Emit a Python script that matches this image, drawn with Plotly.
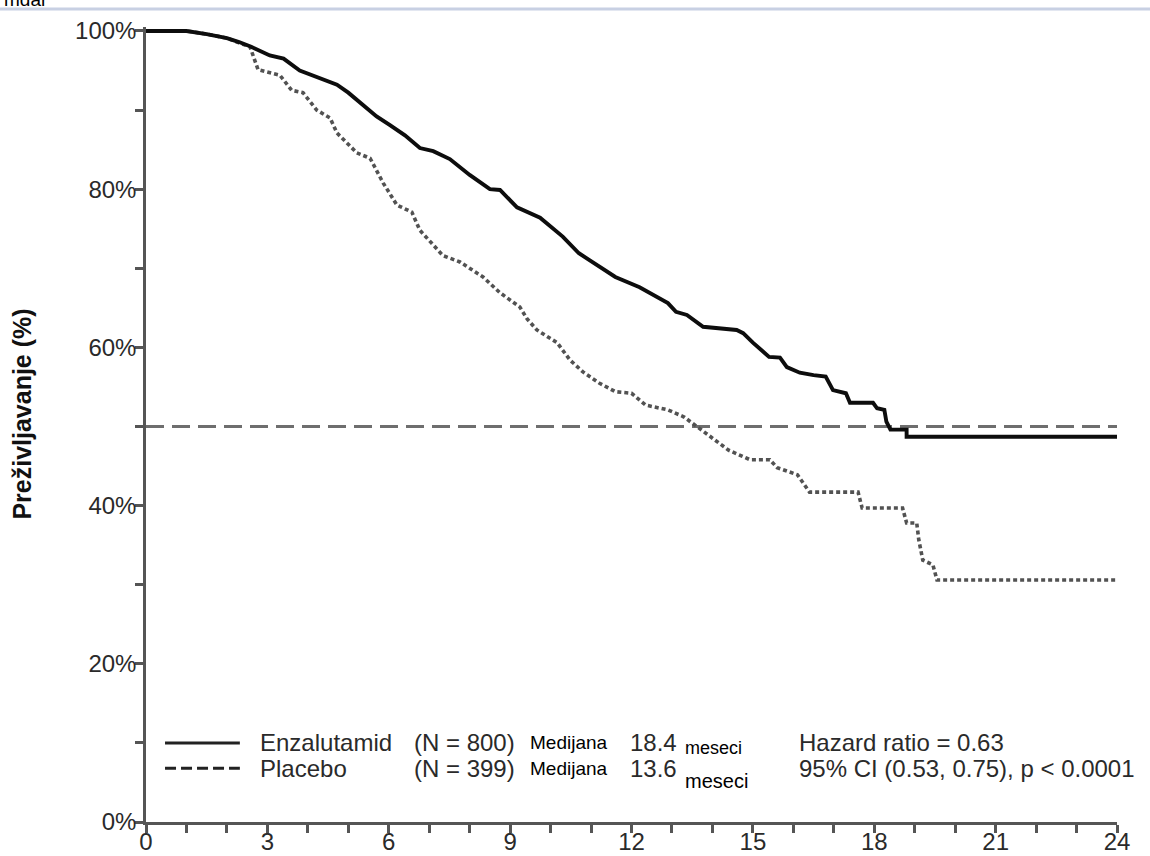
import plotly.graph_objects as go

# Kaplan-Meier survival traces (months, % surviving)
enza_months = [0, 1.0, 1.5, 2.0, 2.3, 2.6, 3.06, 3.4, 3.8, 4.2, 4.72, 5.0, 5.29, 5.7, 6.03,
               6.4, 6.77, 7.1, 7.51, 8.0, 8.5, 8.75, 9.17, 9.74, 10.3, 10.7, 10.97, 11.6,
               12.2, 12.9, 13.1, 13.37, 13.77, 14.6, 14.76, 15.0, 15.4, 15.67, 15.84, 16.16,
               16.5, 16.8, 16.98, 17.3, 17.4, 17.97, 18.07, 18.25, 18.3, 18.4, 18.8, 18.8, 24]
enza_surv = [100, 100, 99.6, 99.1, 98.6, 98.0, 96.9, 96.5, 95.0, 94.2, 93.2, 92.2, 90.9, 89.2, 88.1,
             86.8, 85.2, 84.8, 83.8, 81.8, 80.0, 79.9, 77.7, 76.4, 74.0, 71.9, 71.0, 68.9,
             67.6, 65.6, 64.5, 64.1, 62.6, 62.2, 61.8, 60.6, 58.8, 58.7, 57.5, 56.8,
             56.5, 56.3, 54.6, 54.2, 53.0, 53.0, 52.3, 52.1, 50.6, 49.6, 49.6, 48.7, 48.7]

placebo_months = [0, 1.0, 1.5, 2.0, 2.3, 2.57, 2.77, 3.31, 3.6, 3.88, 4.22, 4.55, 4.72, 5.21, 5.54,
                  5.86, 6.2, 6.57, 6.77, 7.34, 7.76, 8.33, 8.75, 9.24, 9.42, 9.66, 10.16, 10.48,
                  10.8, 11.2, 11.6, 12.0, 12.35, 12.9, 13.3, 13.7, 13.94, 14.4, 14.93, 15.42,
                  15.6, 16.1, 16.4, 17.6, 17.7, 18.7, 18.8, 19.05, 19.1, 19.2, 19.45, 19.55, 24]
placebo_surv = [100, 100, 99.6, 99.1, 98.5, 98.0, 95.1, 94.4, 92.5, 92.2, 90.0, 89.0, 87.1, 84.6, 83.9,
                80.8, 78.0, 77.1, 74.8, 71.6, 70.8, 68.9, 66.9, 65.1, 63.6, 62.2, 60.6, 58.4,
                56.9, 55.5, 54.4, 54.2, 52.7, 52.1, 51.2, 49.7, 48.7, 47.0, 45.8, 45.8,
                44.8, 43.9, 41.7, 41.7, 39.7, 39.7, 37.8, 37.8, 35.7, 33.1, 32.5, 30.6, 30.6]

median_level = 50

x_tick_vals = list(range(0, 25, 3))
y_tick_vals = list(range(0, 101, 20))
y_tick_text = [f"{v}%" for v in y_tick_vals]

legend_rows = [
    {"name": "Enzalutamid", "n": "(N = 800)", "median": "18.4", "stat": "Hazard ratio = 0.63"},
    {"name": "Placebo", "n": "(N = 399)", "median": "13.6", "stat": "95% CI (0.53, 0.75), p < 0.0001"},
]

FONT = "Liberation Sans, Arial, Helvetica, sans-serif"
AXIS_COLOR = "#555555"
TEXT_COLOR = "#2a2a2a"

fig = go.Figure()

fig.add_trace(go.Scatter(
    x=placebo_months, y=placebo_surv, mode="lines",
    line=dict(color="#525252", width=3.6, dash="4px,3px"),
    showlegend=False, hoverinfo="skip"))

fig.add_trace(go.Scatter(
    x=enza_months, y=enza_surv, mode="lines",
    line=dict(color="#0d0d0d", width=3.9),
    showlegend=False, hoverinfo="skip"))

# median reference line
fig.add_shape(type="line", xref="x", yref="y", x0=0, x1=24, y0=median_level, y1=median_level,
              line=dict(color="#6e6e6e", width=3, dash="18px,8px"), layer="below")

# legend block drawn inside the plot
row_y = [10.0, 6.8]
meseci_y = [9.4, 5.2]
meseci_size = [18, 20]
sample_dash = ["solid", "11px,5px"]
for i, row in enumerate(legend_rows):
    y = row_y[i]
    fig.add_shape(type="line", xref="x", yref="y", x0=0.47, x1=2.32, y0=y, y1=y,
                  line=dict(color="#222222", width=3, dash=sample_dash[i]))
    for xpos, txt, size, color in [
        (2.77, row["name"], 24, TEXT_COLOR),
        (6.57, row["n"], 24, TEXT_COLOR),
        (9.44, "Medijana", 19, "#000000"),
        (11.91, row["median"], 24, TEXT_COLOR),
        (16.09, row["stat"], 24, TEXT_COLOR),
    ]:
        fig.add_annotation(x=xpos, y=y, xref="x", yref="y", text=txt, showarrow=False,
                           xanchor="left", yanchor="middle",
                           font=dict(family=FONT, size=size, color=color))
    fig.add_annotation(x=13.27, y=meseci_y[i], xref="x", yref="y", text="meseci", showarrow=False,
                       xanchor="left", yanchor="middle",
                       font=dict(family=FONT, size=meseci_size[i], color="#000000"))

# y-axis title
fig.add_annotation(x=-124 / 971, y=51.5, xref="paper", yref="y", text="<b>Preživljavanje (%)</b>",
                   textangle=-90, showarrow=False, xanchor="center", yanchor="middle",
                   font=dict(family=FONT, size=25, color="#111111"))

# page header rule and cut-off heading text
fig.add_shape(type="line", xref="paper", yref="paper", x0=-146 / 971, x1=1004 / 971,
              y0=(822 - 9) / 795, y1=(822 - 9) / 795,
              line=dict(color="#c8d0e3", width=3))
fig.add_annotation(x=-144 / 971, y=(822 - 12) / 795, xref="paper", yref="paper", text="mdar",
                   showarrow=False, xanchor="left", yanchor="bottom",
                   font=dict(family=FONT, size=19, color="#000000"))

axis_common = dict(
    showgrid=False, zeroline=False, showline=True, linecolor=AXIS_COLOR, linewidth=2.5,
    ticks="outside", ticklen=8, tickwidth=2.5, tickcolor=AXIS_COLOR, automargin=False,
    tickfont=dict(family=FONT, size=24, color=TEXT_COLOR),
)

fig.update_layout(
    width=1150, height=856,
    margin=dict(l=146, r=33, t=27, b=34),
    paper_bgcolor="white", plot_bgcolor="white",
    xaxis=dict(range=[0, 24], tickvals=x_tick_vals, ticklabelstandoff=-12,
               minor=dict(dtick=1, ticks="outside", ticklen=8, tickwidth=2.5, tickcolor=AXIS_COLOR),
               **axis_common),
    yaxis=dict(range=[0, 100.5], tickvals=y_tick_vals, ticktext=y_tick_text, ticklabelstandoff=-6,
               minor=dict(dtick=10, ticks="outside", ticklen=8, tickwidth=2.5, tickcolor=AXIS_COLOR),
               **axis_common),
)

fig.write_html("out.html")
